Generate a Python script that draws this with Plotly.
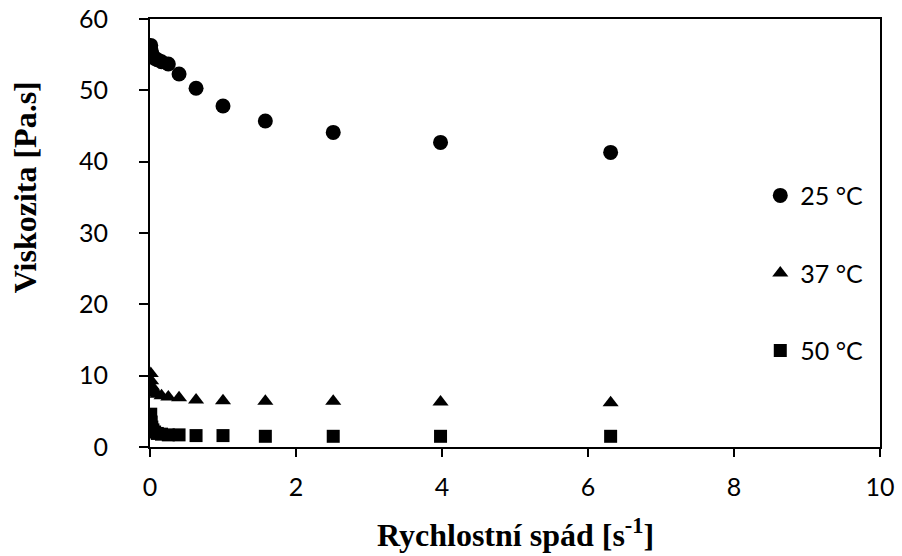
import plotly.graph_objects as go

# Shear rate [1/s]
shear_rate = [0.01, 0.0158, 0.0251, 0.0398, 0.0631, 0.1, 0.158, 0.251, 0.398, 0.631,
              1.0, 1.58, 2.51, 3.98, 6.31]

# Viscosity [Pa.s] at three temperatures
visc_25 = [56.3, 55.6, 55.1, 54.8, 54.5, 54.3, 54.0, 53.7, 52.3, 50.3,
           47.8, 45.7, 44.1, 42.7, 41.3]
visc_37 = [10.3, 9.3, 8.5, 8.0, 7.6, 7.4, 7.2, 7.0, 6.9, 6.6,
           6.5, 6.4, 6.4, 6.3, 6.2]
visc_50 = [4.6, 3.5, 2.8, 2.4, 2.1, 1.9, 1.8, 1.7, 1.7, 1.6,
           1.6, 1.5, 1.5, 1.5, 1.5]

series = [
    ("25 °C", visc_25, "circle", 15),
    ("37 °C", visc_37, "triangle-up", 14),
    ("50 °C", visc_50, "square", 13),
]

x_title = "<b>Rychlostní spád [s<sup>-1</sup>]</b>"
y_title = "<b>Viskozita [Pa.s]</b>"

tick_font = dict(family="Lato, Open Sans, sans-serif", size=25, color="black")
title_font = dict(family="Liberation Serif, Times New Roman, serif", size=32, color="black")

fig = go.Figure()
for i, (name, vals, sym, sz) in enumerate(series):
    fig.add_trace(go.Scatter(
        x=shear_rate, y=vals, mode="markers", name=name,
        legendgroup=f"g{i}",
        marker=dict(symbol=sym, size=sz, color="black"),
    ))

fig.update_layout(
    width=902, height=556,
    margin=dict(l=150, r=22, t=19, b=109),
    plot_bgcolor="white", paper_bgcolor="white",
    showlegend=True,
    legend=dict(
        x=0.836, y=0.641, xanchor="left", yanchor="top",
        font=dict(family="Lato, Open Sans, sans-serif", size=25, color="black"),
        tracegroupgap=42, traceorder="grouped",
        bgcolor="rgba(0,0,0,0)", itemwidth=30,
    ),
)

# Axis titles placed as paper-anchored text
fig.add_annotation(text=x_title, xref="paper", yref="paper", x=0.5, y=-0.2,
                   xanchor="center", yanchor="middle", showarrow=False, font=title_font)
fig.add_annotation(text=y_title, xref="paper", yref="paper", x=-0.171, y=0.607,
                   xanchor="center", yanchor="middle", showarrow=False, textangle=-90,
                   font=title_font)

fig.update_xaxes(
    range=[0, 10], dtick=2, tick0=0, automargin=False,
    showline=True, linecolor="black", linewidth=2, mirror=True,
    ticks="outside", ticklen=8, tickwidth=1.5, tickcolor="black",
    ticklabelstandoff=9,
    showgrid=False, zeroline=False, tickfont=tick_font,
)
fig.update_yaxes(
    range=[0, 60], dtick=10, tick0=0, automargin=False,
    showline=True, linecolor="black", linewidth=2, mirror=True,
    ticks="outside", ticklen=9, tickwidth=1.5, tickcolor="black",
    ticklabelstandoff=26,
    showgrid=False, zeroline=False, tickfont=tick_font,
)

fig.write_html("out.html")
